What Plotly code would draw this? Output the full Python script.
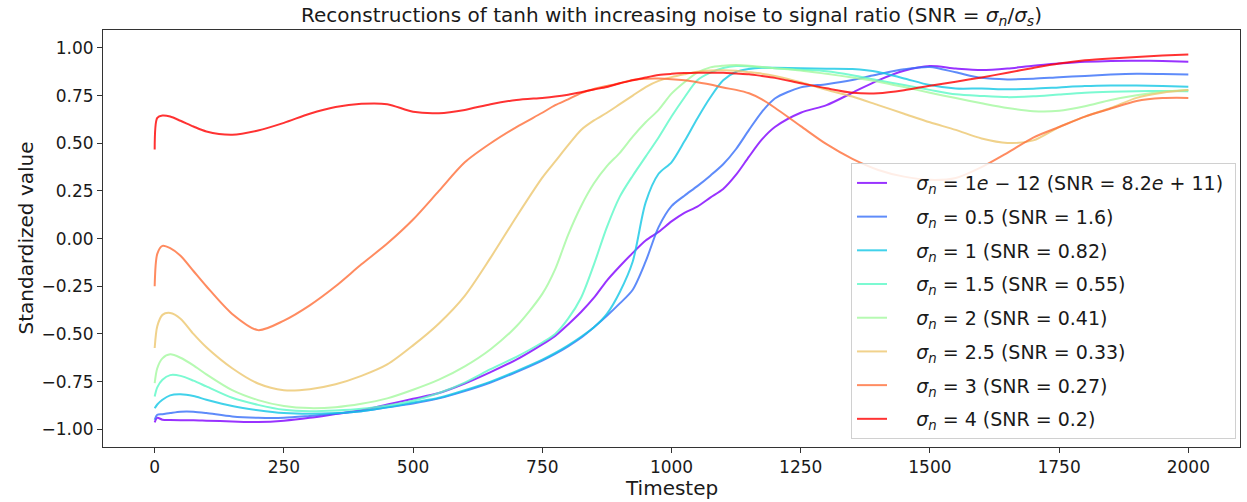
import plotly.graph_objects as go

timestep = [0, 5, 15, 30, 50, 75, 100, 150, 200, 250, 300, 350, 400, 450, 500, 550, 600, 650, 700,
            750, 775, 800, 825, 850, 875, 900, 925, 950, 975, 1000, 1025, 1050, 1075, 1100, 1125,
            1150, 1175, 1200, 1250, 1300, 1350, 1400, 1450, 1500, 1550, 1600, 1650, 1700, 1750,
            1800, 1850, 1900, 1950, 2000]

s_1e12 = [-0.964, -0.94, -0.95, -0.952, -0.953, -0.953, -0.955, -0.959, -0.962, -0.955, -0.94, -0.92,
          -0.90, -0.87, -0.84, -0.81, -0.76, -0.70, -0.635,
          -0.555, -0.51, -0.45, -0.385, -0.31, -0.22, -0.145, -0.075, -0.01, 0.035, 0.09, 0.135,
          0.168, 0.215, 0.26, 0.335, 0.43, 0.52, 0.585, 0.66, 0.70, 0.765, 0.83, 0.88, 0.905,
          0.892, 0.884, 0.892, 0.907, 0.918, 0.927, 0.932, 0.933, 0.931, 0.928]

s_05 = [-0.95, -0.924, -0.921, -0.915, -0.908, -0.908, -0.915, -0.933, -0.94, -0.94, -0.93, -0.918,
        -0.905, -0.885, -0.865, -0.838, -0.80, -0.755, -0.70,
        -0.64, -0.605, -0.565, -0.52, -0.465, -0.405, -0.34, -0.268, -0.12, 0.06, 0.17, 0.225,
        0.275, 0.33, 0.39, 0.47, 0.57, 0.665, 0.735, 0.793, 0.81, 0.832, 0.862, 0.888, 0.90,
        0.872, 0.843, 0.835, 0.838, 0.846, 0.853, 0.86, 0.864, 0.863, 0.861]

s_1 = [-0.89, -0.87, -0.845, -0.822, -0.817, -0.826, -0.845, -0.878, -0.90, -0.915, -0.919, -0.915,
       -0.905, -0.885, -0.86, -0.835, -0.795, -0.75, -0.695,
       -0.635, -0.60, -0.56, -0.515, -0.465, -0.395, -0.28, -0.12, 0.19, 0.34, 0.40, 0.51,
       0.63, 0.74, 0.83, 0.875, 0.89, 0.896, 0.896, 0.893, 0.891, 0.889, 0.874, 0.84, 0.805,
       0.787, 0.787, 0.783, 0.786, 0.793, 0.80, 0.803, 0.803, 0.80, 0.796]

s_15 = [-0.828, -0.78, -0.74, -0.716, -0.72, -0.745, -0.775, -0.835, -0.872, -0.898, -0.906, -0.902,
        -0.893, -0.875, -0.85, -0.81, -0.755, -0.685, -0.62,
        -0.545, -0.50, -0.42, -0.31, -0.135, 0.06, 0.22, 0.33, 0.43, 0.53, 0.64, 0.74,
        0.83, 0.87, 0.895, 0.905, 0.903, 0.898, 0.894, 0.886, 0.878, 0.857, 0.83, 0.805, 0.78,
        0.757, 0.748, 0.742, 0.746, 0.756, 0.765, 0.77, 0.773, 0.774, 0.773]

s_2 = [-0.758, -0.68, -0.628, -0.607, -0.625, -0.665, -0.712, -0.795, -0.847, -0.878, -0.889, -0.884,
       -0.866, -0.838, -0.793, -0.74, -0.67, -0.58, -0.46,
       -0.29, -0.16, 0.02, 0.17, 0.29, 0.38, 0.45, 0.535, 0.61, 0.675, 0.76, 0.82,
       0.87, 0.898, 0.907, 0.91, 0.907, 0.90, 0.894, 0.882, 0.864, 0.845, 0.823, 0.795, 0.765,
       0.737, 0.71, 0.685, 0.668, 0.67, 0.694, 0.727, 0.752, 0.77, 0.779]

s_25 = [-0.574, -0.46, -0.40, -0.39, -0.42, -0.50, -0.57, -0.68, -0.76, -0.795, -0.79, -0.764,
        -0.72, -0.66, -0.56, -0.445, -0.30, -0.10, 0.115,
        0.32, 0.405, 0.49, 0.57, 0.62, 0.66, 0.705, 0.75, 0.795, 0.827, 0.847, 0.862,
        0.875, 0.881, 0.883, 0.88, 0.873, 0.865, 0.853, 0.82, 0.78, 0.745, 0.70, 0.655, 0.61,
        0.57, 0.525, 0.502, 0.515, 0.585, 0.64, 0.685, 0.738, 0.765, 0.779]

s_3 = [-0.25, -0.08, -0.038, -0.05, -0.09, -0.17, -0.25, -0.395, -0.48, -0.43, -0.35, -0.25,
       -0.135, -0.026, 0.10, 0.25, 0.40, 0.50, 0.585,
       0.66, 0.70, 0.73, 0.763, 0.785, 0.80, 0.815, 0.832, 0.838, 0.839, 0.836, 0.83,
       0.82, 0.808, 0.792, 0.78, 0.762, 0.73, 0.686, 0.59, 0.495, 0.418, 0.36, 0.325, 0.308,
       0.318, 0.375, 0.45, 0.53, 0.585, 0.64, 0.682, 0.722, 0.737, 0.738]

s_4 = [0.467, 0.633, 0.645, 0.64, 0.618, 0.588, 0.562, 0.545, 0.567, 0.607, 0.655, 0.69,
       0.707, 0.705, 0.665, 0.658, 0.675, 0.705, 0.727,
       0.738, 0.745, 0.755, 0.768, 0.782, 0.795, 0.815, 0.83, 0.845, 0.858, 0.864, 0.868,
       0.87, 0.87, 0.87, 0.866, 0.862, 0.853, 0.843, 0.815, 0.788, 0.765, 0.762, 0.778, 0.802,
       0.823, 0.845, 0.87, 0.895, 0.918, 0.935, 0.945, 0.952, 0.96, 0.966]

x_ticks = [0, 250, 500, 750, 1000, 1250, 1500, 1750, 2000]
y_ticks = [-1.0, -0.75, -0.5, -0.25, 0.0, 0.25, 0.5, 0.75, 1.0]

sigma_labels = ["1<i>e</i> − 12", "0.5", "1", "1.5", "2", "2.5", "3", "4"]
snr_labels = ["8.2<i>e</i> + 11", "1.6", "0.82", "0.55", "0.41", "0.33", "0.27", "0.2"]
series = [s_1e12, s_05, s_1, s_15, s_2, s_25, s_3, s_4]
colors = ["rgb(128,0,255)", "rgb(55,111,249)", "rgb(18,199,230)", "rgb(91,249,199)",
          "rgb(164,249,159)", "rgb(237,199,111)", "rgb(255,111,57)", "rgb(255,0,0)"]

fig = go.Figure()
for i, (vals, sl, rl, c) in enumerate(zip(series, sigma_labels, snr_labels, colors)):
    fig.add_trace(go.Scatter(
        x=timestep, y=vals, mode="lines",
        line=dict(color=c, width=2, shape="spline", smoothing=0.8),
        opacity=0.8,
        name=f"&nbsp;&nbsp;&nbsp;&nbsp;<i>σ</i><sub><i>n</i></sub> = {sl} (SNR = {rl})&nbsp;",
        legendgroup=f"g{i}",
    ))

font_family = "DejaVu Sans"
txt = "#1a1a1a"
axis_common = dict(
    showline=True, linecolor="#333", linewidth=1, mirror=True,
    ticks="outside", ticklen=5, tickwidth=1, tickcolor="#333",
    showgrid=False, zeroline=False, automargin=False,
    tickfont=dict(family=font_family, size=17, color=txt),
)

fig.update_layout(
    width=1247, height=502,
    margin=dict(l=103, r=7, t=30, b=55),
    paper_bgcolor="white", plot_bgcolor="white",
    font=dict(family=font_family, color=txt),
    title=dict(
        text="Reconstructions of tanh with increasing noise to signal ratio (SNR = <i>σ</i><sub><i>n</i></sub>/<i>σ</i><sub><i>s</i></sub>)",
        x=0.5, xref="paper", xanchor="center", y=1 - 15 / 502, yanchor="middle", yref="container",
        font=dict(family=font_family, size=20, color=txt),
    ),
    xaxis=dict(range=[-100, 2100], tickmode="array", tickvals=x_ticks, **axis_common),
    yaxis=dict(range=[-1.093, 1.094], tickmode="array", tickvals=y_ticks, tickformat=".2f",
               **axis_common),
    legend=dict(
        x=0.9965, y=0.019, xanchor="right", yanchor="bottom",
        bgcolor="rgba(255,255,255,0.85)", bordercolor="#d0d0d0", borderwidth=1,
        font=dict(family=font_family, size=19, color=txt),
        tracegroupgap=6, traceorder="grouped",
    ),
    annotations=[
        dict(text="Timestep", xref="paper", yref="paper", x=0.5, y=-(488 - 447) / 417,
             xanchor="center", yanchor="middle", showarrow=False,
             font=dict(family=font_family, size=20, color=txt)),
        dict(text="Standardized value", xref="paper", yref="paper", x=-(103 - 25) / 1137, y=0.5,
             xanchor="center", yanchor="middle", showarrow=False, textangle=-90,
             font=dict(family=font_family, size=20, color=txt)),
    ],
)

fig.write_html("out.html", config={"displayModeBar": False},
               post_script="document.body.style.margin='0px';")
